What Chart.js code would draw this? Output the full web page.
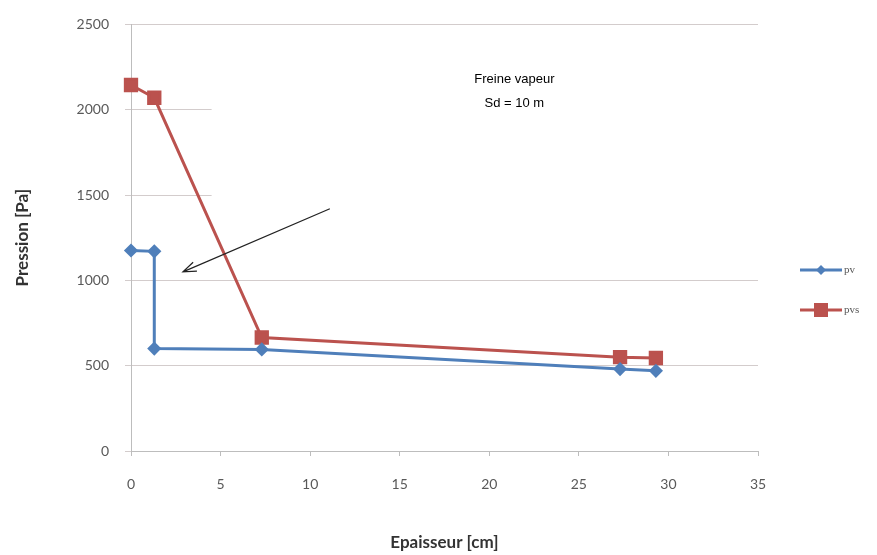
<!DOCTYPE html>
<html>
<head>
<meta charset="utf-8">
<script src="https://cdn.jsdelivr.net/npm/chart.js@4.4.1/dist/chart.umd.min.js"></script>
<style>
  html, body { margin: 0; padding: 0; background: #fff; }
  #wrap { width: 877px; height: 555px; position: relative; }
</style>
</head>
<body>
<div id="wrap"><canvas id="PressionChart"></canvas></div>
<script>
// thickness (cm) and pressures (Pa)
const pvX = [0, 1.3, 1.3, 7.3, 27.3, 29.3]
const pvY = [1175, 1170, 600, 595, 480, 470]
const pvsX = [0, 1.3, 7.3, 27.3, 29.3]
const pvsY = [2145, 2070, 665, 550, 545]
const xTicks = [0, 5, 10, 15, 20, 25, 30, 35]
const yTicks = [0, 500, 1000, 1500, 2000, 2500]
const noteLines = ["Freine vapeur", "Sd = 10 m"]
const notePos = [21.4, 2180]
const arrowFrom = [11.1, 1420]
const arrowTo = [2.9, 1050]

const blue = "#4F7FBA"
const red = "#BB524E"
const grey = "#595959"

const toPoints = (xs, ys) => xs.map((x, i) => ({ x: x, y: ys[i] }))

// a white box in the plot hides part of the grid, like in the source sheet
const coverPlugin = {
	id: "cover",
	beforeDatasetsDraw(chart) {
		const { ctx, scales, chartArea } = chart
		const x0 = scales.x.getPixelForValue(4.5)
		const y0 = scales.y.getPixelForValue(2400)
		const y1 = scales.y.getPixelForValue(1090)
		ctx.save()
		ctx.fillStyle = "#fff"
		ctx.fillRect(x0, y0, chartArea.right + 20 - x0, y1 - y0)
		ctx.restore()
	},
}

const notePlugin = {
	id: "note",
	afterDatasetsDraw(chart) {
		const { ctx, scales } = chart
		ctx.save()
		// text box
		ctx.fillStyle = "#000"
		ctx.font = "13px 'Liberation Sans', Arial, sans-serif"
		ctx.textAlign = "center"
		ctx.textBaseline = "middle"
		const nx = scales.x.getPixelForValue(notePos[0])
		const ny = scales.y.getPixelForValue(notePos[1])
		noteLines.forEach((t, i) => ctx.fillText(t, nx, ny + i * 24))

		// arrow
		const ax = scales.x.getPixelForValue(arrowFrom[0])
		const ay = scales.y.getPixelForValue(arrowFrom[1])
		const bx = scales.x.getPixelForValue(arrowTo[0])
		const by = scales.y.getPixelForValue(arrowTo[1])
		ctx.strokeStyle = "#222"
		ctx.lineWidth = 1.2
		ctx.beginPath()
		ctx.moveTo(ax, ay)
		ctx.lineTo(bx, by)
		const ang = Math.atan2(by - ay, bx - ax)
		const len = 14
		ctx.moveTo(bx - len * Math.cos(ang - 0.35), by - len * Math.sin(ang - 0.35))
		ctx.lineTo(bx, by)
		ctx.lineTo(bx - len * Math.cos(ang + 0.35), by - len * Math.sin(ang + 0.35))
		ctx.stroke()

		// legend
		const items = [
			{ label: "pv", color: blue, style: "diamond" },
			{ label: "pvs", color: red, style: "square" },
		]
		ctx.font = "11px 'Liberation Serif', serif"
		ctx.textAlign = "left"
		items.forEach((it, i) => {
			const ly = 270 + i * 40
			ctx.strokeStyle = it.color
			ctx.lineWidth = 3
			ctx.beginPath()
			ctx.moveTo(800, ly)
			ctx.lineTo(842, ly)
			ctx.stroke()
			ctx.fillStyle = it.color
			if (it.style === "diamond") {
				ctx.beginPath()
				ctx.moveTo(821, ly - 5)
				ctx.lineTo(826, ly)
				ctx.lineTo(821, ly + 5)
				ctx.lineTo(816, ly)
				ctx.closePath()
				ctx.fill()
			} else {
				ctx.fillRect(814, ly - 7, 14, 14)
			}
			ctx.fillStyle = grey
			ctx.fillText(it.label, 844, ly)
		})
		ctx.restore()
	},
}

new Chart(document.getElementById("PressionChart").getContext("2d"), {
	type: "scatter",
	data: {
		datasets: [
			{
				label: "pv",
				data: toPoints(pvX, pvY),
				showLine: true,
				clip: false,
				borderColor: blue,
				backgroundColor: blue,
				borderWidth: 3,
				pointStyle: "rectRot",
				pointRadius: 5,
				pointHoverRadius: 5,
			},
			{
				label: "pvs",
				data: toPoints(pvsX, pvsY),
				showLine: true,
				clip: false,
				borderColor: red,
				backgroundColor: red,
				borderWidth: 3,
				pointStyle: "rect",
				pointRadius: 8,
				pointHoverRadius: 8,
			},
		],
	},
	options: {
		responsive: true,
		maintainAspectRatio: false,
		animation: false,
		layout: { padding: { top: 15, right: 119, left: 0, bottom: 0 } },
		plugins: {
			legend: { display: false },
			tooltip: { enabled: false },
		},
		scales: {
			x: {
				type: "linear",
				min: 0,
				max: 35,
				afterBuildTicks: (s) => { s.ticks = xTicks.map((v) => ({ value: v })) },
				afterFit: (s) => { s.height = 104 },
				grid: { drawOnChartArea: false, drawTicks: true, tickLength: 5, color: "#bdbdbd" },
				border: { color: "#bdbdbd" },
				ticks: { color: grey, padding: 20, font: { family: "Lato", size: 14 } },
				title: {
					display: true,
					text: "Epaisseur [cm]",
					color: "#333",
					font: { family: "Lato", size: 17, weight: "bold" },
					padding: { top: 0, bottom: 2 },
				},
			},
			y: {
				min: 0,
				max: 2500,
				afterBuildTicks: (s) => { s.ticks = yTicks.map((v) => ({ value: v })) },
				afterFit: (s) => { s.width = 131 },
				grid: { color: "#d3cccc", tickLength: 6 },
				border: { color: "#bdbdbd" },
				ticks: {
					color: grey,
					padding: 16,
					font: { family: "Lato", size: 14 },
					callback: (v) => String(v),
				},
				title: {
					display: true,
					text: "Pression [Pa]",
					color: "#333",
					font: { family: "Lato", size: 17, weight: "bold" },
					padding: { top: 12, bottom: 0 },
				},
			},
		},
	},
	plugins: [coverPlugin, notePlugin],
})
</script>
</body>
</html>
